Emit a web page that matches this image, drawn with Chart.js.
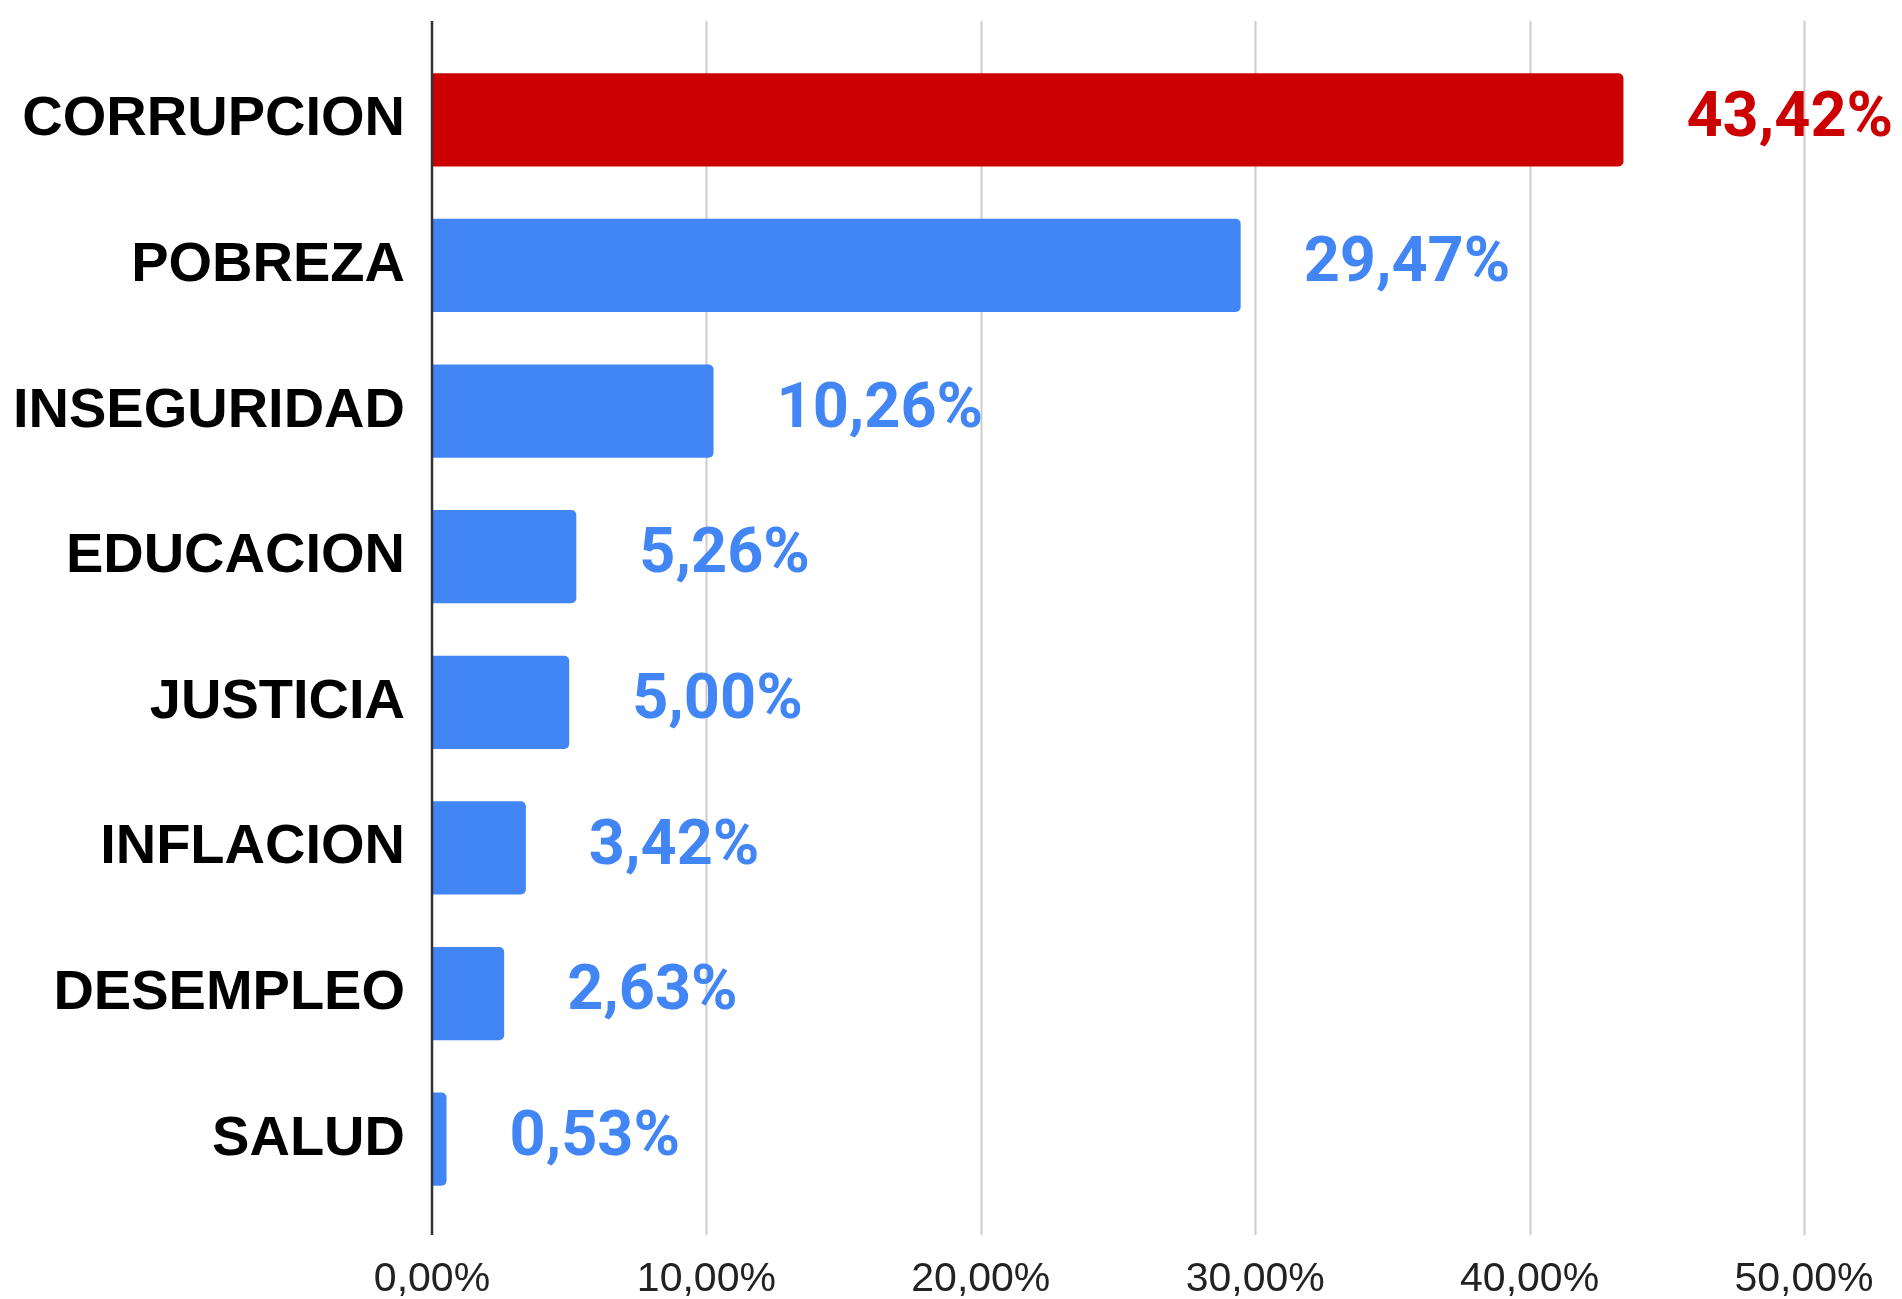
<!DOCTYPE html>
<html>
<head>
<meta charset="utf-8">
<script src="https://cdn.jsdelivr.net/npm/chart.js@4/dist/chart.umd.min.js"></script>
<style>
  html, body { margin: 0; padding: 0; background: #fff; }
  #wrap { width: 1902px; height: 1299px; }
</style>
</head>
<body>
<div id="wrap"><canvas id="problemsChart"></canvas></div>
<script>
// Categories and percentages
const categories = ['CORRUPCION', 'POBREZA', 'INSEGURIDAD', 'EDUCACION', 'JUSTICIA', 'INFLACION', 'DESEMPLEO', 'SALUD'];
const percentages = [43.42, 29.47, 10.26, 5.26, 5.00, 3.42, 2.63, 0.53];
const xTicks = [0, 10, 20, 30, 40, 50];

const RED = '#cc0000';
const BLUE = '#4285f4';

// format like 43,42%
function pct(v) {
    return v.toFixed(2).replace('.', ',') + '%';
}

// first (largest) bar is highlighted in red
const barColors = percentages.map((v, i) => i === 0 ? RED : BLUE);

// grid lines that run a bit past the category band, plus the zero axis
const gridPlugin = {
    id: 'gridPlugin',
    beforeDatasetsDraw(chart) {
        const ctx = chart.ctx;
        const xs = chart.scales.x;
        const top = chart.chartArea.top - 26;
        const bottom = chart.chartArea.bottom + 23;
        ctx.save();
        xTicks.forEach(t => {
            if (t === 0) return;
            const px = Math.round(xs.getPixelForValue(t)) + 0.5;
            ctx.strokeStyle = '#cccccc';
            ctx.lineWidth = 2;
            ctx.beginPath();
            ctx.moveTo(px, top);
            ctx.lineTo(px, bottom);
            ctx.stroke();
        });
        ctx.restore();
    },
    afterDatasetsDraw(chart) {
        const ctx = chart.ctx;
        const xs = chart.scales.x;
        const top = chart.chartArea.top - 26;
        const bottom = chart.chartArea.bottom + 23;
        const px = xs.getPixelForValue(0);
        ctx.save();
        ctx.strokeStyle = '#333333';
        ctx.lineWidth = 2.5;
        ctx.beginPath();
        ctx.moveTo(px, top);
        ctx.lineTo(px, bottom);
        ctx.stroke();

        // value labels to the right of each bar
        const meta = chart.getDatasetMeta(0);
        ctx.font = 'bold 63px Roboto';
        ctx.textAlign = 'left';
        ctx.textBaseline = 'middle';
        meta.data.forEach((bar, i) => {
            ctx.fillStyle = barColors[i];
            ctx.fillText(pct(percentages[i]), bar.x + 63, bar.y);
        });
        ctx.restore();
    }
};

// no automatic label padding, the layout padding below places the plot
function noScalePadding(scale) {
    scale.paddingTop = 0;
    scale.paddingBottom = 0;
    scale.paddingLeft = 0;
    scale.paddingRight = 0;
}

const ctx = document.getElementById('problemsChart').getContext('2d');
new Chart(ctx, {
    type: 'bar',
    data: {
        labels: categories,
        datasets: [{
            data: percentages,
            backgroundColor: barColors,
            borderWidth: 0,
            borderRadius: 5,
            categoryPercentage: 1,
            barPercentage: 0.64
        }]
    },
    options: {
        indexAxis: 'y',
        responsive: true,
        maintainAspectRatio: false,
        animation: false,
        layout: { padding: { top: 47, right: 98, bottom: 0, left: 0 } },
        plugins: {
            legend: { display: false },
            tooltip: { enabled: false }
        },
        scales: {
            x: {
                min: 0,
                max: 50,
                afterBuildTicks: (scale) => { scale.ticks = xTicks.map(v => ({ value: v })); },
                afterFit: (scale) => { scale.height = 87; noScalePadding(scale); },
                grid: { display: false, drawTicks: false },
                border: { display: false },
                ticks: {
                    padding: 43,
                    color: '#222',
                    font: { family: 'Liberation Sans', size: 41 },
                    callback: (v) => pct(v)
                }
            },
            y: {
                afterFit: (scale) => { scale.width = 432; noScalePadding(scale); },
                grid: { display: false, drawTicks: false },
                border: { display: false },
                ticks: {
                    padding: 27,
                    color: '#000',
                    font: { family: 'Liberation Sans', size: 56, weight: 'bold' }
                }
            }
        }
    },
    plugins: [gridPlugin]
});
</script>
</body>
</html>
